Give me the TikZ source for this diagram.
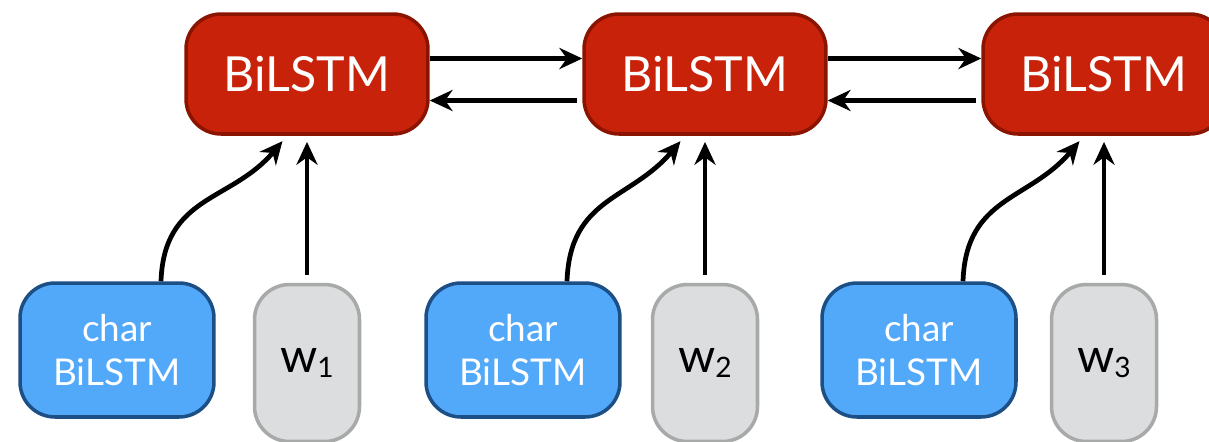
\documentclass[tikz,border=0pt]{standalone}
\usepackage{fontspec}
\setmainfont{Lato}
\usetikzlibrary{arrows.meta}

\definecolor{lstmfill}{HTML}{C8230A}
\definecolor{lstmline}{HTML}{8A1400}
\definecolor{charfill}{HTML}{52A8F9}
\definecolor{charline}{HTML}{1C4F86}
\definecolor{wordfill}{HTML}{DCDDDF}
\definecolor{wordline}{HTML}{A8AAA9}

\begin{document}
\begin{tikzpicture}[
    x=0.02cm,
    y=-0.02cm,
    >={Stealth[length=13pt,width=12pt]},
    lstm/.style={draw=lstmline, fill=lstmfill, line width=2pt, rounded corners=0.7cm,
        minimum width=4.84cm, minimum height=2.4cm, inner sep=0pt, text=white,
        font=\fontsize{27.5}{30}\selectfont},
    charbox/.style={draw=charline, fill=charfill, line width=2pt, rounded corners=0.7cm,
        minimum width=3.88cm, minimum height=2.68cm, inner sep=0pt, text=white, align=center,
        font=\fontsize{21}{25.5}\selectfont},
    wordbox/.style={draw=wordline, fill=wordfill, line width=2pt, rounded corners=0.7cm,
        minimum width=2.1cm, minimum height=3.14cm, inner sep=0pt,
        font=\fontsize{27}{28}\selectfont},
    link/.style={line width=2.7pt}
]
\useasboundingbox (0,0) rectangle (1209,441);
% Boxes, one column per word
\foreach \i/\x/\c in {1/0/0,2/398/406,3/797/802} {
    \node[lstm] (lstm\i) at ({307+\x},74) {BiLSTM};
    \node[charbox] (char\i) at ({117+\c},350) {char\\BiLSTM};
    \node[wordbox] (w\i) at ({307+\x},363) {w\raisebox{-3pt}{\fontsize{16}{16}\selectfont\i}};
}
% Inputs into each BiLSTM
\foreach \i in {1,2,3} {
    \draw[link, ->, shorten <=4.5pt, shorten >=3.5pt] (w\i.north) -- (lstm\i.south);
    \draw[link, ->, shorten >=4pt] ([xshift=0.88cm]char\i.north)
        to[out=88, in=230, looseness=1.15] ([xshift=-0.4cm]lstm\i.south);
}
% Forward and backward links
\foreach \i/\j in {1/2,2/3} {
    \draw[link, ->] ([yshift=0.31cm]lstm\i.east) -- ([yshift=0.31cm]lstm\j.west);
    \draw[link, ->, shorten <=3pt] ([yshift=-0.53cm]lstm\j.west) -- ([yshift=-0.53cm]lstm\i.east);
}
\end{tikzpicture}
\end{document}
